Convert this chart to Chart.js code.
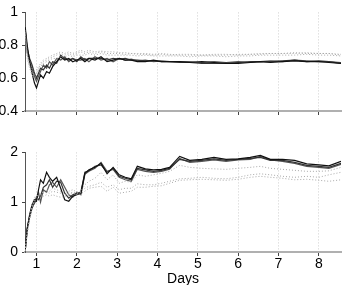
<!DOCTYPE html>
<html>
<head>
<meta charset="utf-8">
<script src="https://cdn.jsdelivr.net/npm/chart.js@4/dist/chart.umd.min.js"></script>
<style>
    body { margin: 0; background: #fff; overflow: hidden; }
    canvas { position: absolute; left: 0; }
</style>
</head>
<body>
<canvas id="topChart" width="346" height="125" style="top:0"></canvas>
<canvas id="botChart" width="346" height="148" style="top:140px"></canvas>
<script>
// days (shared x values)
var days = [0.72, 0.77, 0.83, 0.89, 0.95, 1.0, 1.05, 1.1, 1.17, 1.25, 1.32, 1.4, 1.5, 1.6, 1.7, 1.8, 1.9, 2.0,
    2.1, 2.2, 2.3, 2.45, 2.6, 2.75, 2.9, 3.05, 3.2, 3.35, 3.5, 3.7, 3.9, 4.1, 4.3, 4.55, 4.8, 5.1, 5.4, 5.7,
    6.0, 6.3, 6.55, 6.8, 7.1, 7.4, 7.7, 8.0, 8.25, 8.55];

// top panel, solid
var topA = [0.91, 0.80, 0.70, 0.63, 0.57, 0.54, 0.58, 0.62, 0.60, 0.64, 0.63, 0.67, 0.70, 0.73, 0.71, 0.72, 0.70, 0.71,
    0.72, 0.70, 0.72, 0.71, 0.73, 0.70, 0.71, 0.72, 0.71, 0.71, 0.70, 0.70, 0.71, 0.70, 0.70, 0.70, 0.695, 0.70, 0.695, 0.69,
    0.69, 0.695, 0.70, 0.695, 0.70, 0.705, 0.70, 0.70, 0.695, 0.69];
var topB = [0.89, 0.78, 0.72, 0.68, 0.63, 0.60, 0.63, 0.66, 0.65, 0.68, 0.66, 0.70, 0.69, 0.74, 0.72, 0.71, 0.72, 0.70,
    0.73, 0.71, 0.72, 0.72, 0.72, 0.71, 0.72, 0.715, 0.72, 0.71, 0.71, 0.705, 0.705, 0.70, 0.70, 0.695, 0.695, 0.69, 0.69, 0.69,
    0.695, 0.70, 0.70, 0.70, 0.705, 0.71, 0.70, 0.705, 0.70, 0.69];
var topC = [0.90, 0.76, 0.70, 0.66, 0.61, 0.58, 0.61, 0.64, 0.68, 0.66, 0.70, 0.68, 0.72, 0.71, 0.73, 0.70, 0.72, 0.71,
    0.71, 0.72, 0.70, 0.73, 0.71, 0.72, 0.70, 0.72, 0.71, 0.715, 0.705, 0.71, 0.70, 0.705, 0.70, 0.70, 0.70, 0.695, 0.70, 0.695,
    0.70, 0.695, 0.70, 0.705, 0.70, 0.71, 0.705, 0.70, 0.70, 0.695];
// top panel, dotted
var topD = [0.88, 0.74, 0.67, 0.64, 0.62, 0.63, 0.66, 0.68, 0.70, 0.71, 0.72, 0.73, 0.74, 0.75, 0.74, 0.75, 0.74, 0.75,
    0.76, 0.75, 0.76, 0.75, 0.76, 0.75, 0.75, 0.75, 0.745, 0.75, 0.745, 0.745, 0.74, 0.745, 0.74, 0.745, 0.745, 0.74, 0.745, 0.745,
    0.74, 0.745, 0.75, 0.75, 0.75, 0.75, 0.755, 0.75, 0.75, 0.745];
var topE = [0.87, 0.72, 0.66, 0.62, 0.60, 0.62, 0.65, 0.67, 0.69, 0.70, 0.71, 0.72, 0.72, 0.73, 0.73, 0.74, 0.73, 0.74,
    0.74, 0.74, 0.75, 0.74, 0.75, 0.74, 0.74, 0.74, 0.74, 0.74, 0.735, 0.74, 0.735, 0.735, 0.735, 0.735, 0.73, 0.735, 0.735, 0.73,
    0.735, 0.735, 0.74, 0.74, 0.74, 0.74, 0.745, 0.74, 0.74, 0.735];
var topF = [0.89, 0.75, 0.69, 0.66, 0.64, 0.65, 0.67, 0.69, 0.71, 0.72, 0.73, 0.74, 0.75, 0.76, 0.75, 0.76, 0.75, 0.76,
    0.77, 0.76, 0.77, 0.76, 0.765, 0.76, 0.76, 0.755, 0.755, 0.75, 0.75, 0.75, 0.745, 0.75, 0.745, 0.74, 0.74, 0.74, 0.74, 0.74,
    0.745, 0.745, 0.745, 0.75, 0.75, 0.755, 0.75, 0.75, 0.75, 0.74];

// bottom panel, solid
var botA = [0.03, 0.47, 0.75, 0.95, 1.05, 1.02, 1.25, 1.45, 1.38, 1.60, 1.50, 1.42, 1.50, 1.28, 1.05, 1.02, 1.12, 1.15,
    1.18, 1.58, 1.65, 1.70, 1.78, 1.57, 1.70, 1.55, 1.50, 1.47, 1.72, 1.67, 1.65, 1.66, 1.70, 1.92, 1.84, 1.86, 1.90, 1.86,
    1.87, 1.90, 1.94, 1.86, 1.86, 1.84, 1.77, 1.75, 1.73, 1.82];
var botB = [0.02, 0.45, 0.70, 0.88, 1.00, 1.10, 1.05, 1.12, 1.30, 1.35, 1.45, 1.30, 1.42, 1.40, 1.18, 1.08, 1.15, 1.18,
    1.20, 1.60, 1.63, 1.72, 1.75, 1.60, 1.68, 1.52, 1.48, 1.45, 1.68, 1.65, 1.62, 1.64, 1.68, 1.86, 1.82, 1.84, 1.87, 1.84,
    1.86, 1.88, 1.90, 1.84, 1.84, 1.80, 1.74, 1.72, 1.70, 1.78];
var botC = [0.04, 0.48, 0.72, 0.90, 0.98, 1.05, 1.20, 1.00, 1.25, 1.20, 1.35, 1.40, 1.30, 1.45, 1.30, 1.15, 1.10, 1.20,
    1.15, 1.56, 1.62, 1.68, 1.80, 1.62, 1.66, 1.50, 1.45, 1.42, 1.66, 1.62, 1.60, 1.62, 1.66, 1.88, 1.80, 1.82, 1.85, 1.82,
    1.85, 1.86, 1.92, 1.85, 1.82, 1.78, 1.72, 1.70, 1.68, 1.76];
// bottom panel, dotted
var botD = [0.03, 0.40, 0.70, 0.95, 1.10, 1.12, 1.15, 1.18, 1.20, 1.25, 1.22, 1.28, 1.25, 1.22, 1.20, 1.22, 1.25, 1.20,
    1.22, 1.35, 1.42, 1.48, 1.60, 1.45, 1.55, 1.38, 1.42, 1.40, 1.55, 1.52, 1.55, 1.58, 1.62, 1.74, 1.70, 1.68, 1.67, 1.66,
    1.68, 1.70, 1.72, 1.68, 1.66, 1.64, 1.62, 1.62, 1.63, 1.70];
var botE = [0.02, 0.38, 0.68, 0.90, 1.05, 1.10, 1.12, 1.15, 1.18, 1.20, 1.18, 1.22, 1.20, 1.18, 1.15, 1.18, 1.20, 1.18,
    1.20, 1.28, 1.32, 1.35, 1.40, 1.30, 1.35, 1.25, 1.28, 1.28, 1.37, 1.35, 1.35, 1.38, 1.42, 1.47, 1.48, 1.50, 1.48, 1.47,
    1.50, 1.55, 1.57, 1.55, 1.52, 1.50, 1.52, 1.50, 1.55, 1.60];
var botF = [0.03, 0.36, 0.65, 0.88, 1.02, 1.06, 1.08, 1.10, 1.12, 1.15, 1.12, 1.15, 1.12, 1.10, 1.12, 1.15, 1.18, 1.15,
    1.17, 1.22, 1.28, 1.30, 1.32, 1.22, 1.30, 1.18, 1.20, 1.22, 1.30, 1.30, 1.32, 1.33, 1.38, 1.44, 1.45, 1.46, 1.45, 1.44,
    1.46, 1.50, 1.52, 1.50, 1.48, 1.45, 1.46, 1.44, 1.42, 1.45];

var xMin = 0.715, xMax = 8.55;
var solidColors = ['#111', '#333', '#555'];
var dotColor = '#a8a8a8';

Chart.defaults.font.family = '"Liberation Sans", Arial, sans-serif';
Chart.defaults.font.size = 14;
Chart.defaults.color = '#000';

function pts(ys) {
    return ys.map(function (y, i) { return { x: days[i], y: y }; });
}

function makeSets(solid, dotted) {
    var sets = [];
    dotted.forEach(function (s) {
        sets.push({ data: pts(s), borderColor: dotColor, borderWidth: 1, borderDash: [1, 2] });
    });
    solid.forEach(function (s, i) {
        sets.push({ data: pts(s), borderColor: solidColors[i], borderWidth: 1.2 });
    });
    return sets;
}

function panel(id, solid, dotted, yMin, yMax, yStep, showX, xHeight) {
    return new Chart(document.getElementById(id).getContext('2d'), {
        type: 'line',
        data: { datasets: makeSets(solid, dotted) },
        options: {
            responsive: false,
            animation: false,
            layout: { padding: { left: 0, right: 5, top: 10, bottom: 0 } },
            elements: { point: { radius: 0 }, line: { tension: 0 } },
            plugins: { legend: { display: false }, tooltip: { enabled: false } },
            scales: {
                x: {
                    type: 'linear',
                    min: xMin,
                    max: xMax,
                    afterFit: function (scale) { scale.height = xHeight; },
                    ticks: {
                        display: showX,
                        stepSize: 1,
                        includeBounds: false,
                        padding: 0,
                        maxRotation: 0
                    },
                    grid: {
                        color: '#cfcfcf',
                        tickColor: '#444',
                        tickLength: 4,
                        tickBorderDash: []
                    },
                    border: { color: '#b0b0b0', width: 2, dash: [1, 2] },
                    title: {
                        display: showX,
                        text: 'Days',
                        padding: 0
                    }
                },
                y: {
                    min: yMin,
                    max: yMax,
                    afterFit: function (scale) { scale.width = 25; },
                    ticks: {
                        stepSize: yStep,
                        padding: 4,
                        callback: function (v) { return String(Math.round(v * 10) / 10); }
                    },
                    grid: {
                        drawOnChartArea: false,
                        tickColor: '#444',
                        tickLength: 3
                    },
                    border: { color: '#555', width: 1 }
                }
            }
        }
    });
}

panel('topChart', [topA, topB, topC], [topD, topE, topF], 0.4, 1, 0.2, false, 14);
panel('botChart', [botA, botB, botC], [botD, botE, botF], 0, 2, 1, true, 36);
</script>
</body>
</html>
